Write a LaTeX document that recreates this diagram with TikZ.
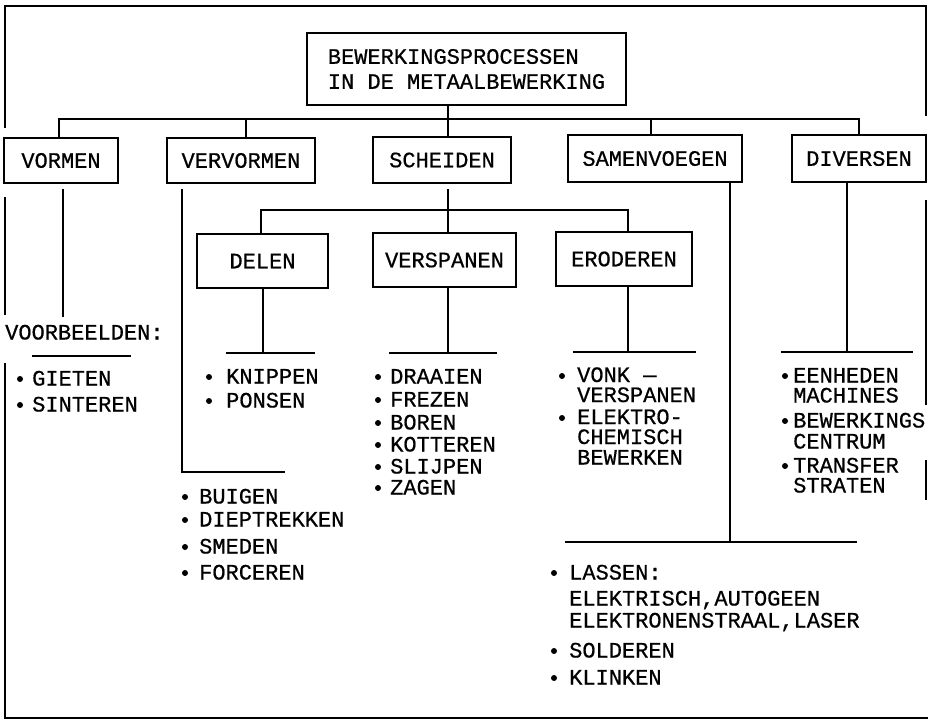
\documentclass[tikz,border=0pt]{standalone}
\usepackage{fontspec}
\setmainfont[FakeBold=0.6]{Liberation Mono}
\newcommand\diafont{\fontsize{22}{25}\selectfont}
\begin{document}
\begin{tikzpicture}[x=1pt,y=-1pt,
  conn/.style={line width=1.8pt},
  frameline/.style={line width=1.7pt},
  box/.style={draw, line width=2pt, inner sep=0pt, font=\diafont},
  item/.style={anchor=base west, inner sep=0pt, font=\diafont, text height=13pt, text depth=1pt},
  dot/.style={fill=black}]
\useasboundingbox (0,0) rectangle (928,721);
% page frame
\draw[frameline] (5,128) -- (5,6) -- (926,6) -- (926,116);
\draw[frameline] (5,197) -- (5,315);
\draw[frameline] (5,363) -- (5,718) -- (928,718);
\draw[frameline] (926,200) -- (926,405);
\draw[frameline] (926,460) -- (926,500);
% boxes
\node[box, minimum width=319pt, minimum height=72pt, align=left] (title) at (466.5,69)
  {BEWERKINGSPROCESSEN\\IN DE METAALBEWERKING};
\node[box, minimum width=114pt, minimum height=45pt] (vormen) at (61,160.5) {VORMEN};
\node[box, minimum width=148pt, minimum height=45pt] (vervormen) at (241,160.5) {VERVORMEN};
\node[box, minimum width=138pt, minimum height=46pt] (scheiden) at (442,160) {SCHEIDEN};
\node[box, minimum width=174pt, minimum height=47pt] (samenvoegen) at (655,158.5) {SAMENVOEGEN};
\node[box, minimum width=134pt, minimum height=47pt] (diversen) at (859,158.5) {DIVERSEN};
\node[box, minimum width=131pt, minimum height=54pt] (delen) at (262.5,261) {DELEN};
\node[box, minimum width=143pt, minimum height=54pt] (verspanen) at (444.5,260) {VERSPANEN};
\node[box, minimum width=136pt, minimum height=54pt] (eroderen) at (624,259) {ERODEREN};
% main bus
\coordinate (jVo) at (59,119);
\coordinate (jVe) at (246,119);
\coordinate (jSc) at (448,119);
\coordinate (jSa) at (651,119);
\coordinate (jDi) at (859,119);
\draw[conn] (title.south -| jSc) -- (jSc);
\draw[conn] (vormen.north -| jVo) -- (jVo) -- (jDi) -- (diversen.north -| jDi);
\draw[conn] (jVe) -- (vervormen.north -| jVe);
\draw[conn] (jSc) -- (scheiden.north -| jSc);
\draw[conn] (jSa) -- (samenvoegen.north -| jSa);
% scheiden sub bus
\coordinate (kSc) at (448,210);
\coordinate (kDe) at (261,210);
\coordinate (kEr) at (628,210);
\draw[conn, shorten <=5pt] (scheiden.south -| kSc) -- (verspanen.north -| kSc);
\draw[conn] (delen.north -| kDe) -- (kDe) -- (kEr) -- (eroderen.north -| kEr);
% vormen
\coordinate (vo1) at (63,317);
\draw[conn, shorten <=5pt] (vormen.south -| vo1) -- (vo1);
\node[item] (voorb) at (5,339.5) {VOORBEELDEN:};
\coordinate (vu1) at (32,356);
\coordinate (vu2) at (131,356);
\draw[conn] (vu1) -- (vu2);
\fill[dot] (20,379) circle (3);
\node[item] (gieten) at (32,385.5) {GIETEN};
\fill[dot] (20,405) circle (3);
\node[item] (sinteren) at (32,411.5) {SINTEREN};
% vervormen
\coordinate (ve1) at (182,472);
\coordinate (ve2) at (285,472);
\draw[conn, shorten <=5pt] (vervormen.south -| ve1) -- (ve1) -- (ve2);
\fill[dot] (185,497) circle (3);
\node[item] (buigen) at (199,503.5) {BUIGEN};
\fill[dot] (185,520) circle (3);
\node[item] (diep) at (199,526.5) {DIEPTREKKEN};
\fill[dot] (185,547) circle (3);
\node[item] (smeden) at (199,553.5) {SMEDEN};
\fill[dot] (185,573) circle (3);
\node[item] (forceren) at (199,579.5) {FORCEREN};
% delen
\coordinate (de0) at (263,353);
\coordinate (de1) at (226,353);
\coordinate (de2) at (315,353);
\draw[conn] (delen.south -| de0) -- (de0);
\draw[conn] (de1) -- (de2);
\fill[dot] (209,377) circle (3);
\node[item] (knippen) at (226,383.5) {KNIPPEN};
\fill[dot] (209,401) circle (3);
\node[item] (ponsen) at (226,407.5) {PONSEN};
% verspanen
\coordinate (vs0) at (448,353);
\coordinate (vs1) at (389,353);
\coordinate (vs2) at (497,353);
\draw[conn] (verspanen.south -| vs0) -- (vs0);
\draw[conn] (vs1) -- (vs2);
\fill[dot] (378,377) circle (3);
\node[item] (draaien) at (390,383.5) {DRAAIEN};
\fill[dot] (378,400) circle (3);
\node[item] (frezen) at (390,406.5) {FREZEN};
\fill[dot] (378,423) circle (3);
\node[item] (boren) at (390,429.5) {BOREN};
\fill[dot] (378,445) circle (3);
\node[item] (kotteren) at (390,451.5) {KOTTEREN};
\fill[dot] (378,467) circle (3);
\node[item] (slijpen) at (390,473.5) {SLIJPEN};
\fill[dot] (378,488) circle (3);
\node[item] (zagen) at (390,494.5) {ZAGEN};
% eroderen
\coordinate (er0) at (628,352);
\coordinate (er1) at (573,352);
\coordinate (er2) at (696,352);
\draw[conn] (eroderen.south -| er0) -- (er0);
\draw[conn] (er1) -- (er2);
\fill[dot] (562,376) circle (3);
\node[item] (vonk) at (577,382) {VONK —};
\node[item] (vonkb) at (577,402) {VERSPANEN};
\fill[dot] (562,418) circle (3);
\node[item] (elektro) at (577,424) {ELEKTRO-};
\node[item] (chemisch) at (577,444) {CHEMISCH};
\node[item] (bewerken) at (577,464.5) {BEWERKEN};
% samenvoegen
\coordinate (sa0) at (730,542);
\coordinate (sa1) at (565,542);
\coordinate (sa2) at (857,542);
\draw[conn] (samenvoegen.south -| sa0) -- (sa0);
\draw[conn] (sa1) -- (sa2);
\fill[dot] (554,573) circle (3);
\node[item] (lassen) at (569,579.5) {LASSEN:};
\node[item] (lass1) at (569,605.5) {ELEKTRISCH,AUTOGEEN};
\node[item] (lass2) at (569,627.5) {ELEKTRONENSTRAAL,LASER};
\fill[dot] (554,651) circle (3);
\node[item] (solderen) at (569,657.5) {SOLDEREN};
\fill[dot] (554,678) circle (3);
\node[item] (klinken) at (569,684.5) {KLINKEN};
% diversen
\coordinate (di0) at (847,352);
\coordinate (di1) at (781,352);
\coordinate (di2) at (913,352);
\draw[conn] (diversen.south -| di0) -- (di0);
\draw[conn] (di1) -- (di2);
\fill[dot] (785,376) circle (3);
\node[item] (eenheden) at (793,382.5) {EENHEDEN};
\node[item] (machines) at (793,402.5) {MACHINES};
\fill[dot] (785,421) circle (3);
\node[item] (bewerkings) at (793,427.5) {BEWERKINGS};
\node[item] (centrum) at (793,448.5) {CENTRUM};
\fill[dot] (785,466) circle (3);
\node[item] (transfer) at (793,472.5) {TRANSFER};
\node[item] (straten) at (793,492.5) {STRATEN};
\end{tikzpicture}
\end{document}
